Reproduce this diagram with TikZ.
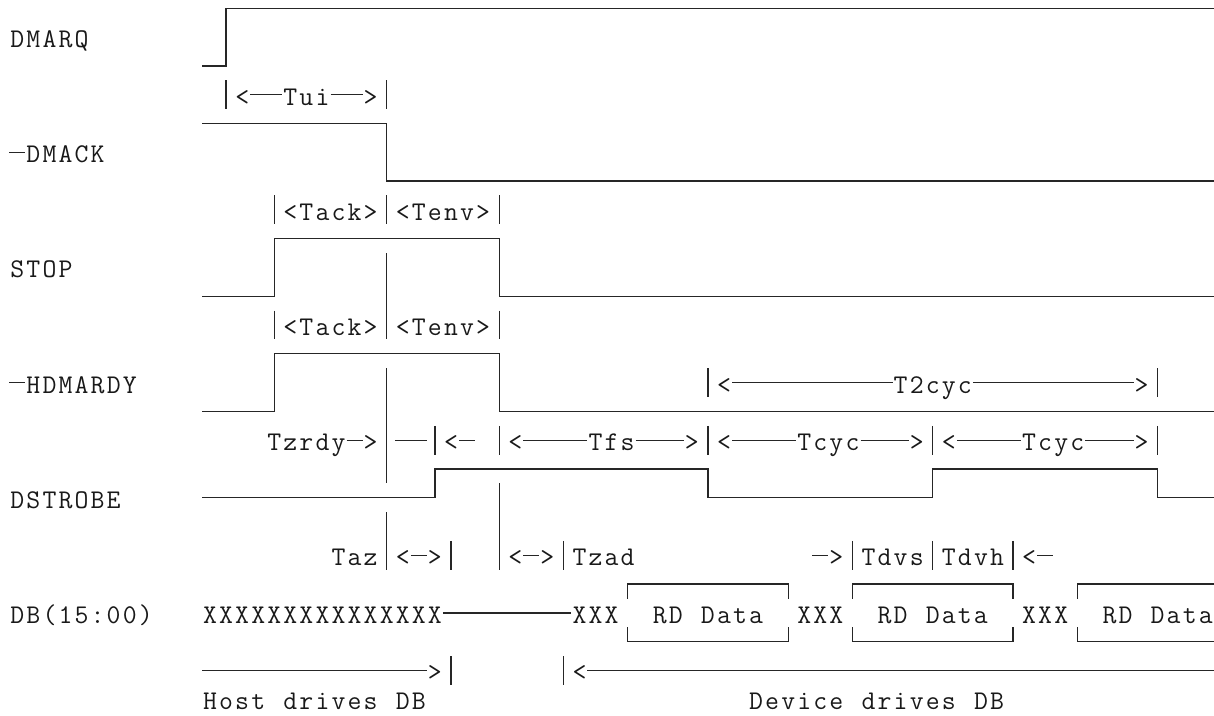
\documentclass[tikz,border=0pt]{standalone}
\usepackage{fontspec}
\ExplSyntaxOn
\NewDocumentCommand\mono{m}{\str_map_inline:nn{#1}{\makebox[16.06pt][c]{##1}}}
\ExplSyntaxOff
\tikzset{
  wire/.style={line width=1.3pt, draw=black!85, line cap=butt, line join=miter},
  lbl/.style={anchor=base west, inner sep=0pt, outer sep=0pt, text=black!90,
              font=\ttfamily\fontsize{27}{30}\selectfont},
}
% name, row, col, text
\newcommand\mtxt[4]{\node[lbl] (#1) at ({L(#3)},{Y(#2)+10.5}) {\mono{#4}};}
% row, fromcol, tocol
\newcommand\mdash[3]{\draw[wire] ({L(#2)},{Y(#1)}) -- ({L(#3+1)},{Y(#1)});}
% col, fromrow, torow
\newcommand\mbar[3]{\draw[wire] ({C(#1)},{Y(#2)-14.4}) -- ({C(#1)},{Y(#3)+14.4});}
% box top/bottom brackets: fromcol, tocol
\newcommand\databox[2]{%
  \draw[wire] ({C(#1)},{Y(20)+14.4}) -- ({C(#1)},{Y(20)}) -- ({C(#2)},{Y(20)}) -- ({C(#2)},{Y(20)+14.4});
  \draw[wire] ({C(#1)},{Y(22)-14.4}) -- ({C(#1)},{Y(22)}) -- ({C(#2)},{Y(22)}) -- ({C(#2)},{Y(22)-14.4});}
\begin{document}
\begin{tikzpicture}[x=1pt, y=-1pt,
  declare function={C(\k)=16.06*\k+1.3; L(\k)=16.06*\k-6.73; Y(\n)=8.3+28.79*\n;}]
\useasboundingbox (0,0) rectangle (1214,715);

% ---------- signal names ----------
\mtxt{n-dmarq}{1}{1}{DMARQ}
\mdash{5}{1}{1}\mtxt{n-dmack}{5}{2}{DMACK}
\mtxt{n-stop}{9}{1}{STOP}
\mdash{13}{1}{1}\mtxt{n-hdmardy}{13}{2}{HDMARDY}
\mtxt{n-dstrobe}{17}{1}{DSTROBE}
\mtxt{n-db}{21}{1}{DB(15:00)}

% ---------- waveforms ----------
\draw[wire] ({L(13)},{Y(2)}) -- ({C(14)},{Y(2)}) -- ({C(14)},{Y(0)}) -- (1214,{Y(0)});
\draw[wire] ({L(13)},{Y(4)}) -- ({C(24)},{Y(4)}) -- ({C(24)},{Y(6)}) -- (1214,{Y(6)});
\draw[wire] ({L(13)},{Y(10)}) -- ({C(17)},{Y(10)}) -- ({C(17)},{Y(8)}) -- ({C(31)},{Y(8)}) -- ({C(31)},{Y(10)}) -- (1214,{Y(10)});
\draw[wire] ({L(13)},{Y(14)}) -- ({C(17)},{Y(14)}) -- ({C(17)},{Y(12)}) -- ({C(31)},{Y(12)}) -- ({C(31)},{Y(14)}) -- (1214,{Y(14)});
\draw[wire] ({L(13)},{Y(17)}) -- ({C(27)},{Y(17)}) -- ({C(27)},{Y(16)}) -- ({C(44)},{Y(16)}) -- ({C(44)},{Y(17)})
  -- ({C(58)},{Y(17)}) -- ({C(58)},{Y(16)}) -- ({C(72)},{Y(16)}) -- ({C(72)},{Y(17)}) -- (1214,{Y(17)});

% ---------- vertical bars ----------
\mbar{14}{3}{3}
\mbar{17}{7}{7}\mbar{17}{11}{11}
\mbar{24}{3}{3}\mbar{24}{7}{7}\mbar{24}{9}{11}\mbar{24}{13}{16}\mbar{24}{18}{19}
\mbar{31}{7}{7}\mbar{31}{11}{11}\mbar{31}{15}{15}\mbar{31}{17}{19}
\mbar{27}{15}{15}
\mbar{28}{19}{19}\mbar{28}{23}{23}
\mbar{35}{19}{19}\mbar{35}{23}{23}
\mbar{44}{13}{13}\mbar{44}{15}{15}
\mbar{58}{15}{15}\mbar{58}{19}{19}
\mbar{72}{13}{13}\mbar{72}{15}{15}
\mbar{53}{19}{19}\mbar{63}{19}{19}

% ---------- row 3: Tui ----------
\mtxt{t-tui-l}{3}{15}{<}\mdash{3}{16}{17}\mtxt{t-tui}{3}{18}{Tui}\mdash{3}{21}{22}\mtxt{t-tui-r}{3}{23}{>}

% ---------- rows 7 / 11: Tack Tenv ----------
\mtxt{t-tack1}{7}{18}{<Tack>}\mtxt{t-tenv1}{7}{25}{<Tenv>}
\mtxt{t-tack2}{11}{18}{<Tack>}\mtxt{t-tenv2}{11}{25}{<Tenv>}

% ---------- row 13: T2cyc ----------
\mtxt{t-t2-l}{13}{45}{<}\mdash{13}{46}{55}\mtxt{t-t2cyc}{13}{56}{T2cyc}\mdash{13}{61}{70}\mtxt{t-t2-r}{13}{71}{>}

% ---------- row 15 ----------
\mtxt{t-tzrdy}{15}{17}{Tzrdy}\mdash{15}{22}{22}\mtxt{t-tzrdy-r}{15}{23}{>}
\mdash{15}{25}{26}\mtxt{t-tz-l}{15}{28}{<}\mdash{15}{29}{29}
\mtxt{t-tfs-l}{15}{32}{<}\mdash{15}{33}{36}\mtxt{t-tfs}{15}{37}{Tfs}\mdash{15}{40}{42}\mtxt{t-tfs-r}{15}{43}{>}
\mtxt{t-c1-l}{15}{45}{<}\mdash{15}{46}{49}\mtxt{t-tcyc1}{15}{50}{Tcyc}\mdash{15}{54}{56}\mtxt{t-c1-r}{15}{57}{>}
\mtxt{t-c2-l}{15}{59}{<}\mdash{15}{60}{63}\mtxt{t-tcyc2}{15}{64}{Tcyc}\mdash{15}{68}{70}\mtxt{t-c2-r}{15}{71}{>}

% ---------- row 19 ----------
\mtxt{t-taz}{19}{21}{Taz}
\mtxt{t-taz-l}{19}{25}{<}\mdash{19}{26}{26}\mtxt{t-taz-r}{19}{27}{>}
\mtxt{t-tzad-l}{19}{32}{<}\mdash{19}{33}{33}\mtxt{t-tzad-r}{19}{34}{>}
\mtxt{t-tzad}{19}{36}{Tzad}
\mdash{19}{51}{51}\mtxt{t-dvs-r}{19}{52}{>}
\mtxt{t-tdvs}{19}{54}{Tdvs}\mtxt{t-tdvh}{19}{59}{Tdvh}
\mtxt{t-dvh-l}{19}{64}{<}\mdash{19}{65}{65}

% ---------- row 21: DB ----------
\mtxt{d-x0}{21}{13}{XXXXXXXXXXXXXXX}\mdash{21}{28}{35}
\mtxt{d-x1}{21}{36}{XXX}\mtxt{d-rd1}{21}{41}{RD Data}
\mtxt{d-x2}{21}{50}{XXX}\mtxt{d-rd2}{21}{55}{RD Data}
\mtxt{d-x3}{21}{64}{XXX}\mtxt{d-rd3}{21}{69}{RD Data}
\databox{39}{49}
\databox{53}{63}
\draw[wire] ({C(67)},{Y(20)+14.4}) -- ({C(67)},{Y(20)}) -- (1214,{Y(20)});
\draw[wire] ({C(67)},{Y(22)-14.4}) -- ({C(67)},{Y(22)}) -- (1214,{Y(22)});

% ---------- rows 23/24: drivers ----------
\mdash{23}{13}{26}\mtxt{h-arr}{23}{27}{>}
\mtxt{dv-arr}{23}{36}{<}\draw[wire] ({L(37)},{Y(23)}) -- (1214,{Y(23)});
\mtxt{h-host}{24}{13}{Host drives DB}
\mtxt{h-dev}{24}{47}{Device drives DB}
\end{tikzpicture}
\end{document}
